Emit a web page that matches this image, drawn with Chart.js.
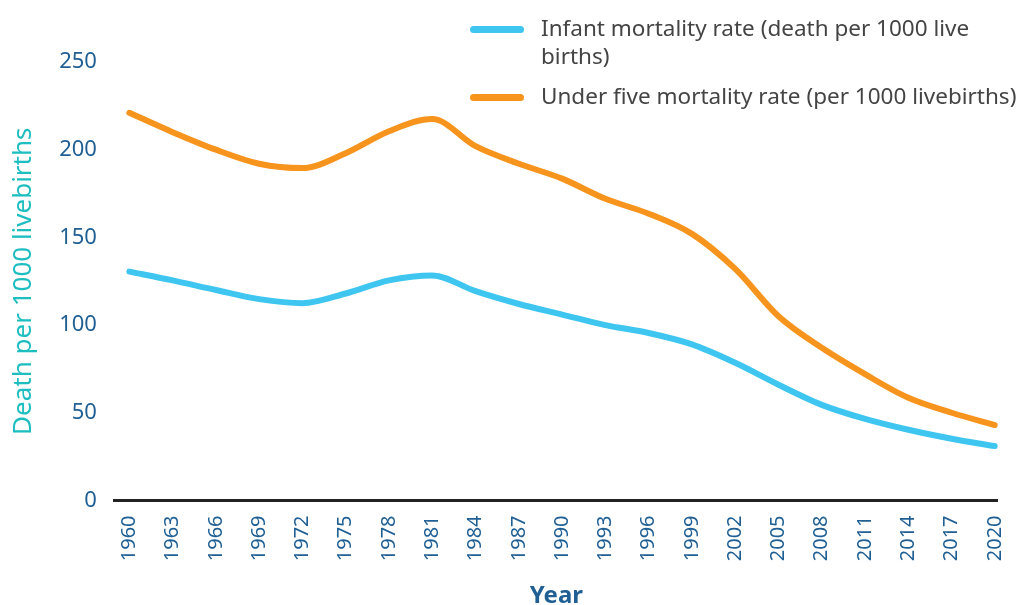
<!DOCTYPE html>
<html>
<head>
<meta charset="utf-8">
<script src="https://cdn.jsdelivr.net/npm/chart.js@4"></script>
<style>
  body { margin: 0; background: #fff; }
  #wrap { position: relative; width: 1034px; height: 605px; }
  #legend { position: absolute; left: 470px; top: 14px; font-family: "Noto Sans", sans-serif; font-size: 22.5px; color: #444; }
  .item { display: flex; align-items: flex-start; margin-bottom: 12px; }
  .swatch { width: 54px; height: 7px; border-radius: 4px; margin-top: 12px; margin-right: 17px; flex: none; }
  .txt { line-height: 28px; width: 450px; }
  .item:last-child .txt { white-space: nowrap; }
</style>
</head>
<body>
<div id="wrap">
  <canvas id="chart" width="1034" height="605"></canvas>
  <div id="legend"></div>
</div>
<script>
const years = [1960, 1963, 1966, 1969, 1972, 1975, 1978, 1981, 1984, 1987, 1990,
               1993, 1996, 1999, 2002, 2005, 2008, 2011, 2014, 2017, 2020];
const infantRate = [130.5, 125.5, 120, 114.8, 112.5, 118, 125.5, 128.3, 119.3, 112, 106,
                    100, 95.5, 89, 78.5, 66, 54.5, 46.5, 40.3, 35.2, 31];
const underFiveRate = [221, 210, 200, 192, 189.5, 198, 210.5, 217.5, 202, 192, 183.5,
                       172, 163.5, 152, 132, 105, 87, 72, 58.5, 50, 43];
const seriesNames = ['Infant mortality rate (death per 1000 live births)',
                     'Under five mortality rate (per 1000 livebirths)'];
const seriesColors = ['#3ec6f0', '#f7941d'];

const toPoints = (vals) => vals.map((v, i) => ({x: years[i], y: v}));

const legend = document.getElementById('legend');
seriesNames.forEach((name, i) => {
    legend.innerHTML += `<div class="item"><div class="swatch" style="background:${seriesColors[i]}"></div><div class="txt">${name}</div></div>`;
});

const data = {
    datasets: [{
            label: seriesNames[0],
            data: toPoints(infantRate),
            borderColor: seriesColors[0],
            borderWidth: 6,
            pointRadius: 0,
            cubicInterpolationMode: 'monotone',
            borderCapStyle: 'round'
        }, {
            label: seriesNames[1],
            data: toPoints(underFiveRate),
            borderColor: seriesColors[1],
            borderWidth: 6,
            pointRadius: 0,
            cubicInterpolationMode: 'monotone',
            borderCapStyle: 'round'
        }]
};

const tickColor = '#1f5f94';
const font = '"Noto Sans", sans-serif';

const config = {
    type: 'line',
    data: data,
    options: {
        responsive: false,
        animation: false,
        layout: { padding: { top: 62, right: 36, left: 4, bottom: -6 } },
        plugins: { legend: { display: false }, tooltip: { enabled: false } },
        scales: {
            x: {
                type: 'linear',
                min: 1959,
                max: 2020.2,
                afterBuildTicks: (axis) => { axis.ticks = years.map(v => ({value: v})); },
                grid: { display: false, drawTicks: false },
                border: { color: '#222', width: 3 },
                ticks: {
                    color: tickColor, font: { family: font, size: 20 },
                    minRotation: 90, maxRotation: 90, padding: 15,
                    callback: (v) => String(v)
                },
                title: { display: true, text: 'Year', color: tickColor,
                         font: { family: font, size: 24, weight: 'bold' }, padding: { top: 6, bottom: 0 } }
            },
            y: {
                min: 0,
                max: 250,
                grid: { display: false, drawTicks: false },
                border: { display: false },
                ticks: { stepSize: 50, color: tickColor, font: { family: font, size: 22 }, padding: 18 },
                title: { display: true, text: 'Death per 1000 livebirths', color: '#1dbdc0',
                         font: { family: font, size: 26 }, padding: { bottom: 2 } }
            }
        }
    }
};

let ctx = document.getElementById('chart').getContext('2d');
new Chart(ctx, config);
</script>
</body>
</html>
